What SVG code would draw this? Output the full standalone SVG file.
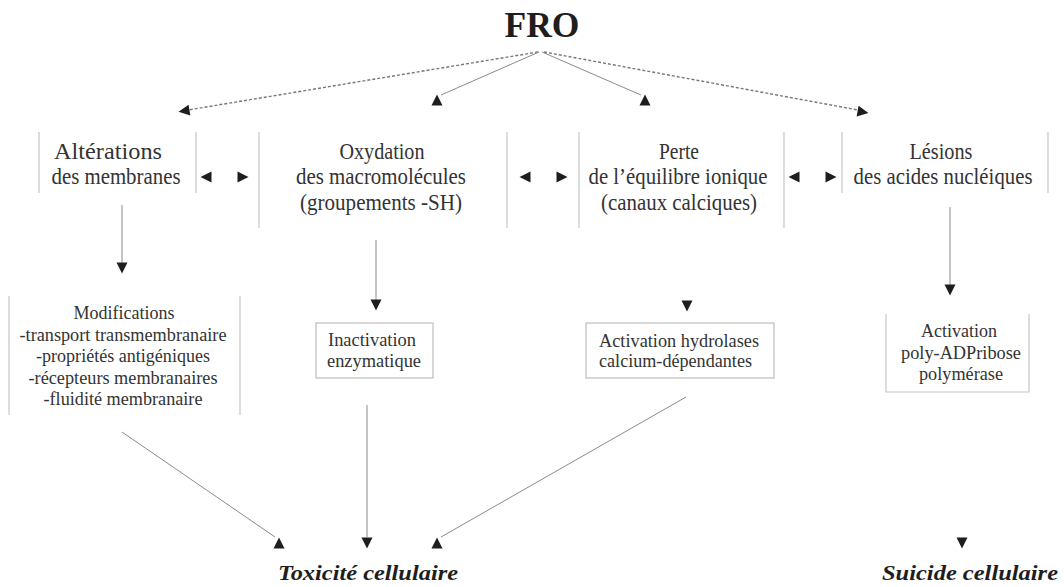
<svg xmlns="http://www.w3.org/2000/svg" xmlns:xlink="http://www.w3.org/1999/xlink" width="1064" height="587" viewBox="0 0 1064 587">
<style>
text{font-family:"Liberation Serif","Times New Roman",serif;fill:#333}
.t{font-size:22.5px;text-anchor:middle}
.s{font-size:18.5px;text-anchor:middle}
.sl{font-size:18.5px}
.big{font-size:35px;font-weight:bold;text-anchor:middle;fill:#1e1e1e}
.out{font-size:22px;font-weight:bold;font-style:italic;text-anchor:middle;fill:#1e1e1e}
.side{stroke:#c6c6c6;stroke-width:1.2;fill:none}
.box{stroke:#bdbdbd;stroke-width:1.2;fill:#fff}
.ln{stroke:#8a8a8a;stroke-width:1;fill:none}
.dash{stroke:#777;stroke-width:1.4;fill:none;stroke-dasharray:3 2}
.head{fill:#1e1e1e}
</style>
<defs>
<path id="tri" d="M0,-5.5 L5.5,5.5 L-5.5,5.5 Z"/>
</defs>
<rect width="1064" height="587" fill="#fff"/>

<g id="fro"><text class="big" x="542" y="37" textLength="75" lengthAdjust="spacingAndGlyphs">FRO</text></g>

<g id="membranes">
<path class="side" d="M39,132 V193 M196,132 V193"/>
<text class="t" x="108" y="159" textLength="108" lengthAdjust="spacingAndGlyphs">Altérations</text>
<text class="t" x="116" y="184" textLength="129" lengthAdjust="spacingAndGlyphs">des membranes</text>
</g>
<g id="oxydation">
<path class="side" d="M259,132 V228 M507,132 V228"/>
<text class="t" x="382" y="159" textLength="85" lengthAdjust="spacingAndGlyphs">Oxydation</text>
<text class="t" x="381" y="184" textLength="170" lengthAdjust="spacingAndGlyphs">des macromolécules</text>
<text class="t" x="381" y="210" textLength="162" lengthAdjust="spacingAndGlyphs">(groupements -SH)</text>
</g>
<g id="perte">
<path class="side" d="M579,132 V228 M784,132 V228"/>
<text class="t" x="679" y="159" textLength="40" lengthAdjust="spacingAndGlyphs">Perte</text>
<text class="t" x="678" y="184" textLength="179" lengthAdjust="spacingAndGlyphs">de l’équilibre ionique</text>
<text class="t" x="679" y="210" textLength="156" lengthAdjust="spacingAndGlyphs">(canaux calciques)</text>
</g>
<g id="lesions">
<path class="side" d="M842,132 V193 M1048,132 V193"/>
<text class="t" x="941" y="159" textLength="63" lengthAdjust="spacingAndGlyphs">Lésions</text>
<text class="t" x="943" y="184" textLength="179" lengthAdjust="spacingAndGlyphs">des acides nucléiques</text>
</g>

<g id="modifications">
<path class="side" d="M9,296 V415 M240,296 V415"/>
<text class="s" x="124" y="319" textLength="101" lengthAdjust="spacingAndGlyphs">Modifications</text>
<text class="s" x="123" y="340.5" textLength="207" lengthAdjust="spacingAndGlyphs">-transport transmembranaire</text>
<text class="s" x="123" y="362" textLength="174" lengthAdjust="spacingAndGlyphs">-propriétés antigéniques</text>
<text class="s" x="123" y="383.5" textLength="189" lengthAdjust="spacingAndGlyphs">-récepteurs membranaires</text>
<text class="s" x="123" y="405" textLength="159" lengthAdjust="spacingAndGlyphs">-fluidité membranaire</text>
</g>
<g id="inactivation">
<rect class="box" x="316" y="323" width="117" height="55"/>
<text class="sl" x="328" y="346" textLength="88" lengthAdjust="spacingAndGlyphs">Inactivation</text>
<text class="sl" x="327" y="367" textLength="94" lengthAdjust="spacingAndGlyphs">enzymatique</text>
</g>
<g id="hydrolases">
<rect class="box" x="586" y="323" width="188" height="55"/>
<text class="sl" x="599" y="347" textLength="160" lengthAdjust="spacingAndGlyphs">Activation hydrolases</text>
<text class="sl" x="599" y="367" textLength="153" lengthAdjust="spacingAndGlyphs">calcium-dépendantes</text>
</g>
<g id="polymerase">
<path class="side" d="M886,314 V392 H1029 V314"/>
<text class="s" x="959" y="337" textLength="76" lengthAdjust="spacingAndGlyphs">Activation</text>
<text class="s" x="961" y="359" textLength="120" lengthAdjust="spacingAndGlyphs">poly-ADPribose</text>
<text class="s" x="961" y="380" textLength="84" lengthAdjust="spacingAndGlyphs">polymérase</text>
</g>

<g id="toxicite"><text class="out" x="368" y="580" textLength="180" lengthAdjust="spacingAndGlyphs">Toxicité cellulaire</text></g>
<g id="suicide"><text class="out" x="970" y="580" textLength="176" lengthAdjust="spacingAndGlyphs">Suicide cellulaire</text></g>

<g id="connectors">
<path class="dash" d="M538,52 L188,110"/>
<path class="ln" d="M539,52 L441,95"/>
<path class="ln" d="M542,52 L641,95"/>
<path class="dash" d="M544,52 L858,110"/>
<use href="#tri" class="head" transform="translate(184,111) rotate(-99)"/>
<use href="#tri" class="head" transform="translate(437,100)"/>
<use href="#tri" class="head" transform="translate(645,100)"/>
<use href="#tri" class="head" transform="translate(863,112) rotate(100)"/>

<use href="#tri" class="head" transform="translate(206,177) rotate(-90)"/>
<use href="#tri" class="head" transform="translate(243,177) rotate(90)"/>
<use href="#tri" class="head" transform="translate(525,177) rotate(-90)"/>
<use href="#tri" class="head" transform="translate(562,177) rotate(90)"/>
<use href="#tri" class="head" transform="translate(794,177) rotate(-90)"/>
<use href="#tri" class="head" transform="translate(831,177) rotate(90)"/>

<path class="ln" d="M122,205 V263"/>
<use href="#tri" class="head" transform="translate(122,268) rotate(180)"/>
<path class="ln" d="M376,240 V300"/>
<use href="#tri" class="head" transform="translate(376,305) rotate(180)"/>
<use href="#tri" class="head" transform="translate(687,306) rotate(180)"/>
<path class="ln" d="M950,207 V285"/>
<use href="#tri" class="head" transform="translate(950,290) rotate(180)"/>

<path class="ln" d="M122,432 L275,537"/>
<use href="#tri" class="head" transform="translate(279,543)"/>
<path class="ln" d="M367,405 V537"/>
<use href="#tri" class="head" transform="translate(367,543) rotate(180)"/>
<path class="ln" d="M686,397 L441,537"/>
<use href="#tri" class="head" transform="translate(437,543)"/>
<use href="#tri" class="head" transform="translate(962,543) rotate(180)"/>
</g>
</svg>
